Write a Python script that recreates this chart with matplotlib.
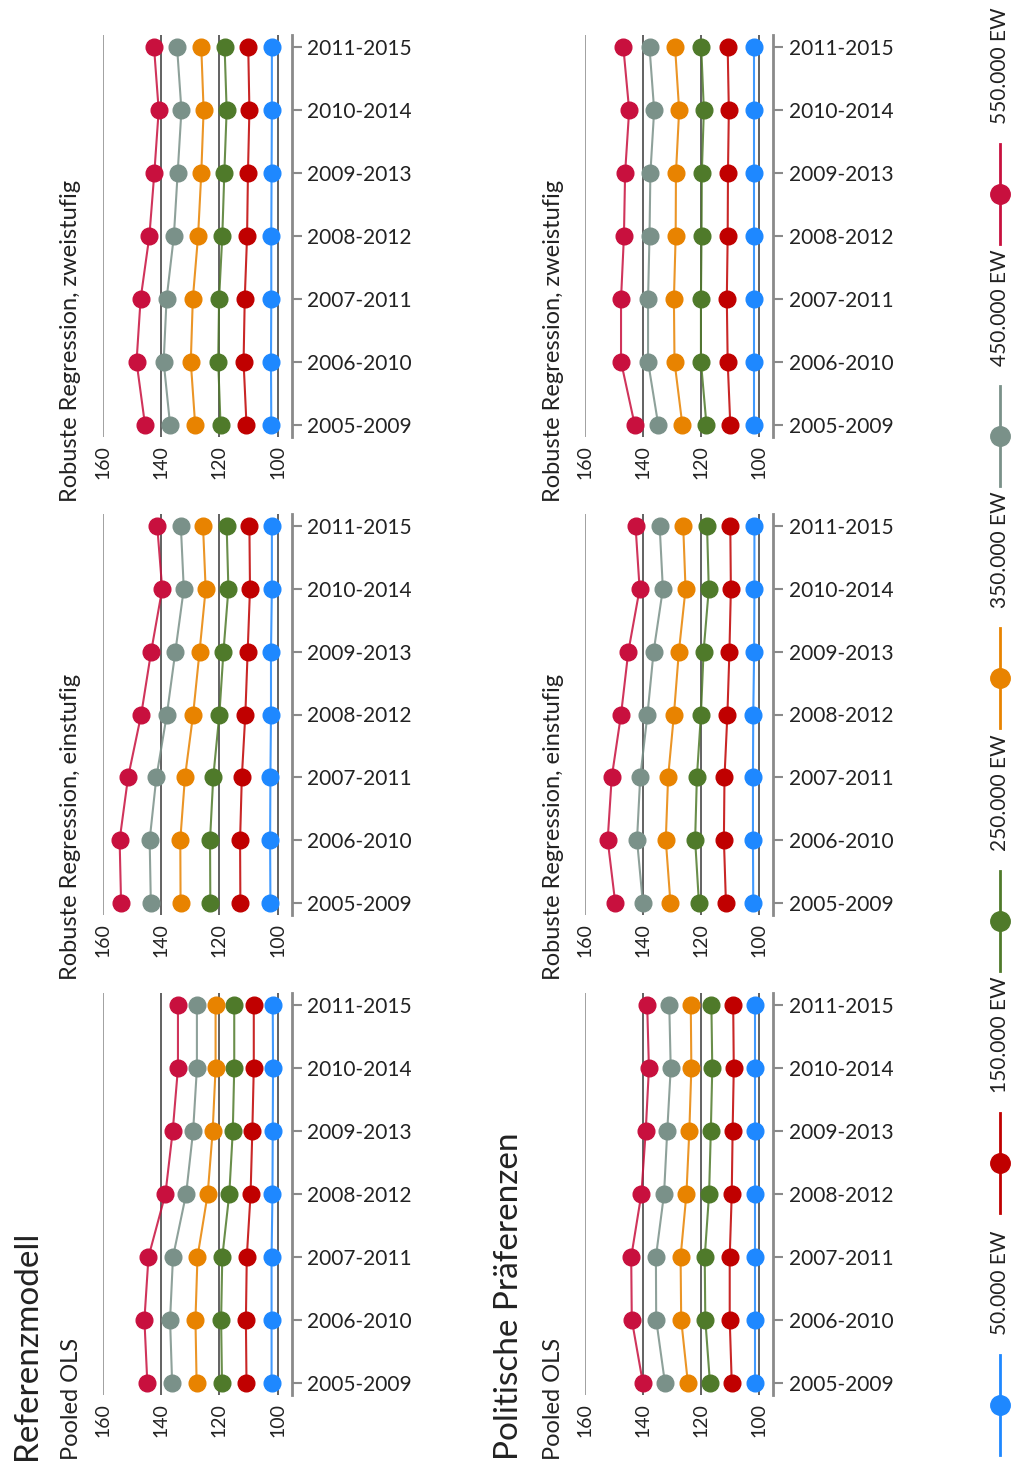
import matplotlib
matplotlib.use("Agg")
import matplotlib.pyplot as plt

plt.rcParams['font.family'] = ['Lato', 'DejaVu Sans']

# ---- data -------------------------------------------------------------
periods = ["2005-2009", "2006-2010", "2007-2011", "2008-2012",
           "2009-2013", "2010-2014", "2011-2015"]
series_labels = ["50.000 EW", "150.000 EW", "250.000 EW",
                 "350.000 EW", "450.000 EW", "550.000 EW"]
series_colors = ["#1e88ff", "#c00000", "#4f7a2a",
                 "#e88300", "#7a9189", "#c8103e"]
value_ticks = [160, 140, 120, 100]

row_titles = ["Referenzmodell", "Politische Präferenzen"]
panel_titles = ["Pooled OLS", "Robuste Regression, einstufig",
                "Robuste Regression, zweistufig"]

# Referenzmodell (one list per city size, 50.000 ... 550.000 EW)
ref_pooled = [
    [102.1, 102.1, 102.1, 101.8, 101.7, 101.6, 101.7],
    [110.7, 110.9, 110.6, 109.3, 108.7, 108.2, 108.2],
    [119.1, 119.4, 119.0, 116.6, 115.4, 114.9, 114.9],
    [127.8, 128.2, 127.5, 124.0, 122.3, 121.3, 121.3],
    [136.2, 136.9, 135.9, 131.4, 129.0, 127.7, 127.7],
    [144.7, 145.7, 144.3, 138.5, 136.0, 134.2, 134.2],
]
ref_einstufig = [
    [102.5, 102.6, 102.5, 102.3, 102.3, 102.0, 102.0],
    [112.8, 112.9, 112.3, 111.1, 110.3, 109.5, 109.7],
    [123.1, 123.2, 122.1, 120.0, 118.6, 116.9, 117.5],
    [133.3, 133.4, 131.8, 129.0, 126.8, 124.7, 125.6],
    [143.5, 143.9, 141.6, 138.0, 135.1, 132.2, 133.2],
    [153.7, 154.2, 151.3, 146.8, 143.4, 139.6, 141.3],
]
ref_zweistufig = [
    [102.2, 102.3, 102.2, 102.2, 102.1, 102.0, 102.0],
    [110.7, 111.7, 111.3, 110.5, 110.2, 109.7, 110.1],
    [119.6, 120.4, 120.1, 119.0, 118.3, 117.5, 118.2],
    [128.3, 129.8, 129.1, 127.3, 126.2, 125.4, 126.2],
    [136.9, 139.1, 138.1, 135.6, 134.3, 133.0, 134.5],
    [145.5, 148.4, 147.0, 144.0, 142.3, 140.8, 142.4],
]

# Politische Präferenzen
pol_pooled = [
    [101.6, 101.6, 101.6, 101.6, 101.6, 101.6, 101.6],
    [109.5, 110.2, 110.2, 109.5, 109.2, 108.8, 109.0],
    [117.0, 118.6, 118.8, 117.3, 116.7, 116.2, 116.5],
    [124.6, 126.9, 127.1, 125.1, 124.1, 123.4, 123.6],
    [132.5, 135.5, 135.6, 132.8, 131.7, 130.5, 131.0],
    [140.1, 143.9, 144.1, 140.6, 139.1, 138.0, 138.6],
]
pol_einstufig = [
    [102.1, 102.2, 102.2, 102.1, 101.8, 101.7, 101.7],
    [111.5, 112.2, 112.0, 111.0, 110.3, 109.8, 110.0],
    [120.8, 122.1, 121.5, 120.1, 119.2, 117.4, 118.0],
    [130.6, 132.2, 131.4, 129.4, 127.7, 125.4, 126.2],
    [140.1, 142.1, 141.0, 138.5, 136.4, 133.2, 134.3],
    [149.6, 152.2, 150.8, 147.6, 145.1, 141.2, 142.6],
]
pol_zweistufig = [
    [101.8, 101.8, 101.8, 101.8, 101.8, 101.8, 101.8],
    [110.0, 110.9, 111.2, 110.9, 110.8, 110.5, 110.9],
    [118.2, 120.1, 120.1, 119.9, 119.8, 119.1, 120.0],
    [126.5, 129.2, 129.4, 128.8, 128.7, 127.6, 129.0],
    [134.8, 138.3, 138.3, 137.8, 137.5, 136.2, 137.8],
    [142.9, 147.6, 147.6, 146.6, 146.2, 144.8, 146.8],
]

rows_data = [[ref_pooled, ref_einstufig, ref_zweistufig],
             [pol_pooled, pol_einstufig, pol_zweistufig]]

# ---- layout (pixels) --------------------------------------------------
W, H = 1014, 1466
TEXT = "#222222"
AXIS_GRAY = "#8a8a8a"

fig = plt.figure(figsize=(W / 100, H / 100), dpi=100)

row_x = [(102.7, 291.7), (585.0, 773.3)]
row_title_x = [27, 509]
panel_title_x = [71, 553]
panel_y = [(993, 1395), (514, 915), (35, 437)]   # (top, bottom)


def rect(x0, x1, y_top, y_bot):
    return [x0 / W, 1 - y_bot / H, (x1 - x0) / W, (y_bot - y_top) / H]


positions = list(range(len(periods)))

for r, panels in enumerate(rows_data):
    x0, x1 = row_x[r]
    fig.text(row_title_x[r] / W, 1 - 1460 / H, row_titles[r], rotation=90,
             ha="center", va="bottom", fontsize=24, color=TEXT)
    for p, panel in enumerate(panels):
        y_top, y_bot = panel_y[p]
        ax = fig.add_axes(rect(x0, x1, y_top, y_bot))
        ax.set_facecolor("none")
        ax.set_xlim(160, 95.2)
        ax.set_ylim(-0.196, len(periods) - 1 + 0.196)

        ax.set_xticks(value_ticks)
        ax.set_xticklabels([str(v) for v in value_ticks])
        for v in value_ticks:
            ax.axvline(v, color="#9a9a9a" if v == value_ticks[0] else "#555555",
                       linewidth=1.3, zorder=1)

        for side in ("top", "left", "bottom"):
            ax.spines[side].set_visible(False)
        ax.spines["right"].set_color(AXIS_GRAY)
        ax.spines["right"].set_linewidth(2)

        ax.yaxis.tick_right()
        ax.set_yticks(positions)
        ax.set_yticklabels(periods)
        ax.tick_params(axis="y", length=7, width=1.5, color=AXIS_GRAY,
                       pad=4, labelsize=15, labelcolor=TEXT)
        ax.tick_params(axis="x", length=0, pad=6, labelsize=14,
                       labelcolor=TEXT, labelrotation=90)

        for vals, color in zip(panel, series_colors):
            ax.plot(vals, positions, color=color, linewidth=1.5, alpha=0.85,
                    zorder=2)
            ax.plot(vals, positions, linestyle="none", marker="o",
                    markersize=12, color=color, zorder=3)

        fig.text(panel_title_x[r] / W, 1 - (y_bot + 65) / H, panel_titles[p],
                 rotation=90, ha="center", va="bottom", fontsize=17,
                 color=TEXT)

# ---- legend (vertical strip on the right) -----------------------------
leg = fig.add_axes([0, 0, 1, 1])
leg.set_xlim(0, W)
leg.set_ylim(H, 0)
leg.axis("off")
leg.set_facecolor("none")
for i, (label, color) in enumerate(zip(series_labels, series_colors)):
    ym = 1405 - i * 242.2
    leg.plot([1000, 1000], [ym - 50, ym + 50], color=color, linewidth=2)
    leg.plot([1000], [ym], marker="o", markersize=14, color=color)
    leg.text(1000, ym - 70, label, rotation=90, ha="center", va="bottom",
             fontsize=15, color=TEXT)

fig.savefig("out.png", dpi=100)
